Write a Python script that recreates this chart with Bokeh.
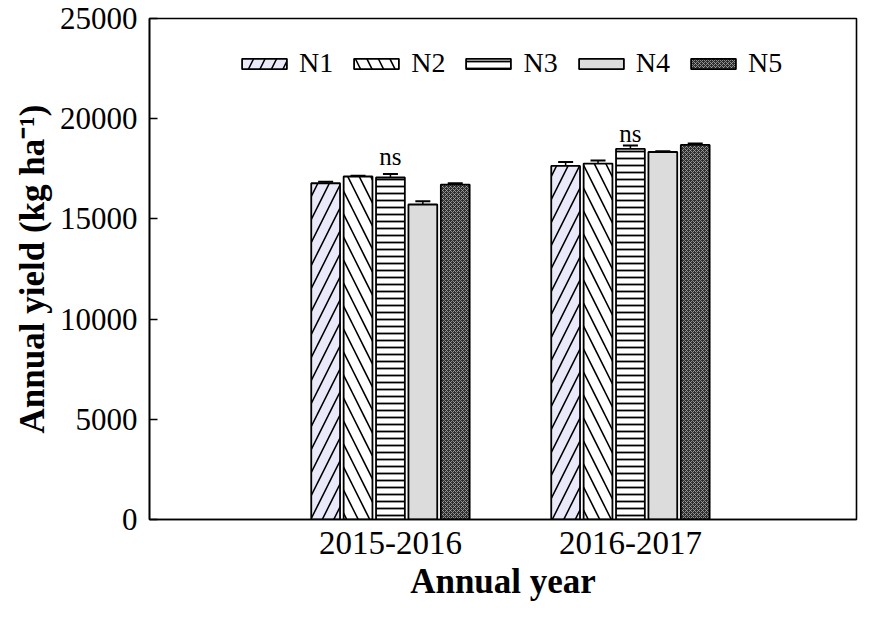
import numpy as np
from bokeh.plotting import figure
from bokeh.models import (ColumnDataSource, Range1d, FixedTicker, Whisker, TeeHead,
                          Legend, LegendItem)
from bokeh.core.properties import value
from bokeh.embed import file_html
from bokeh.resources import INLINE

# ---------------- data ----------------
years = ["2015-2016", "2016-2017"]
treatments = ["N1", "N2", "N3", "N4", "N5"]
yield_2015 = [16780, 17115, 17066, 15718, 16715]
yield_2016 = [17645, 17760, 18497, 18338, 18690]
err_2015 = [80, 40, 180, 160, 60]
err_2016 = [190, 150, 160, 40, 70]
sig_labels = ["ns", "ns"]
sig_y = [18100, 19250]

FONT = "Liberation Serif"

# styles per treatment
fills = ["#e9e9f9", "#ffffff", "#ffffff", "#dcdcdc", "#2e2e2e"]
hatches = ["/", "\\", "-", " ", "x"]
hatch_colors = ["black", "black", "black", "black", "#a8a8a8"]
hatch_scales = [23, 23, 7, 12, 4]
hatch_weights = [1.6, 1.6, 1.8, 1, 0.8]
offsets = [-0.27, -0.135, 0.0, 0.135, 0.27]
bar_w = 0.12

p = figure(width=858, height=603, output_backend="svg", toolbar_location=None,
           x_range=Range1d(-0.004, 2.942), y_range=Range1d(0, 25000),
           min_border_left=149, min_border_right=2, min_border_top=18,
           min_border_bottom=82)
p.xgrid.visible = False
p.ygrid.visible = False
p.outline_line_color = "black"
p.outline_line_width = 1.6
p.background_fill_color = "white"
p.border_fill_color = "white"

values_by_year = [yield_2015, yield_2016]
errs_by_year = [err_2015, err_2016]
group_pos = np.arange(1, len(years) + 1)

legend_items = []
for i, t in enumerate(treatments):
    vals = [values_by_year[g][i] for g in range(len(years))]
    errs = [errs_by_year[g][i] for g in range(len(years))]
    xs = group_pos + offsets[i]
    src = ColumnDataSource(dict(x=xs, top=vals,
                                upper=np.array(vals) + np.array(errs),
                                lower=np.array(vals) - np.array(errs)))
    r = p.vbar(x="x", top="top", width=bar_w, source=src,
               fill_color=fills[i], line_color="black", line_width=1.8,
               hatch_pattern=hatches[i], hatch_color=hatch_colors[i],
               hatch_scale=hatch_scales[i], hatch_weight=hatch_weights[i])
    w = Whisker(source=src, base="x", upper="upper", lower="lower",
                line_color="black", line_width=1.5,
                upper_head=TeeHead(size=15, line_width=2, line_color="black"),
                lower_head=TeeHead(size=15, line_width=2, line_color="black"))
    p.add_layout(w)
    legend_items.append(LegendItem(label=t, renderers=[r]))

# significance labels
p.text(x=list(group_pos), y=sig_y, text=sig_labels, text_font=value(FONT),
       text_font_size="25px", text_align="center", text_baseline="alphabetic",
       text_color="black")

legend = Legend(items=legend_items, orientation="horizontal", location=(87, 440),
                glyph_width=56, glyph_height=13, label_standoff=7, spacing=15,
                padding=0, margin=0, border_line_alpha=0, background_fill_alpha=0,
                label_text_font=FONT, label_text_font_size="28px",
                label_text_color="black")
p.add_layout(legend)

# axes
p.xaxis.ticker = FixedTicker(ticks=list(group_pos))
p.xaxis.major_label_overrides = {int(k): v for k, v in zip(group_pos, years)}
p.xaxis.major_tick_in = 0
p.xaxis.major_tick_out = 0
p.xaxis.minor_tick_line_color = None
p.xaxis.axis_label = "Annual year"

p.yaxis.ticker = FixedTicker(ticks=[0, 5000, 10000, 15000, 20000, 25000])
p.yaxis.major_tick_in = 8
p.yaxis.major_tick_out = 0
p.yaxis.minor_tick_line_color = None
p.yaxis.axis_label = "Annual yield (kg ha\u207b\u00b9)"

for ax in (p.xaxis[0], p.yaxis[0]):
    ax.axis_line_width = 1.6
    ax.axis_line_color = "black"
    ax.major_tick_line_width = 1.6
    ax.major_label_text_font = FONT
    ax.major_label_text_color = "black"
    ax.major_label_standoff = 12
    ax.axis_label_text_font = FONT
    ax.axis_label_text_font_size = "35px"
    ax.axis_label_text_font_style = "bold"
    ax.axis_label_text_color = "black"
    ax.axis_label_standoff = 5
p.xaxis.major_label_text_font_size = "33px"
p.yaxis.major_label_text_font_size = "31px"

open("out.html", "w").write(file_html(p, INLINE))
